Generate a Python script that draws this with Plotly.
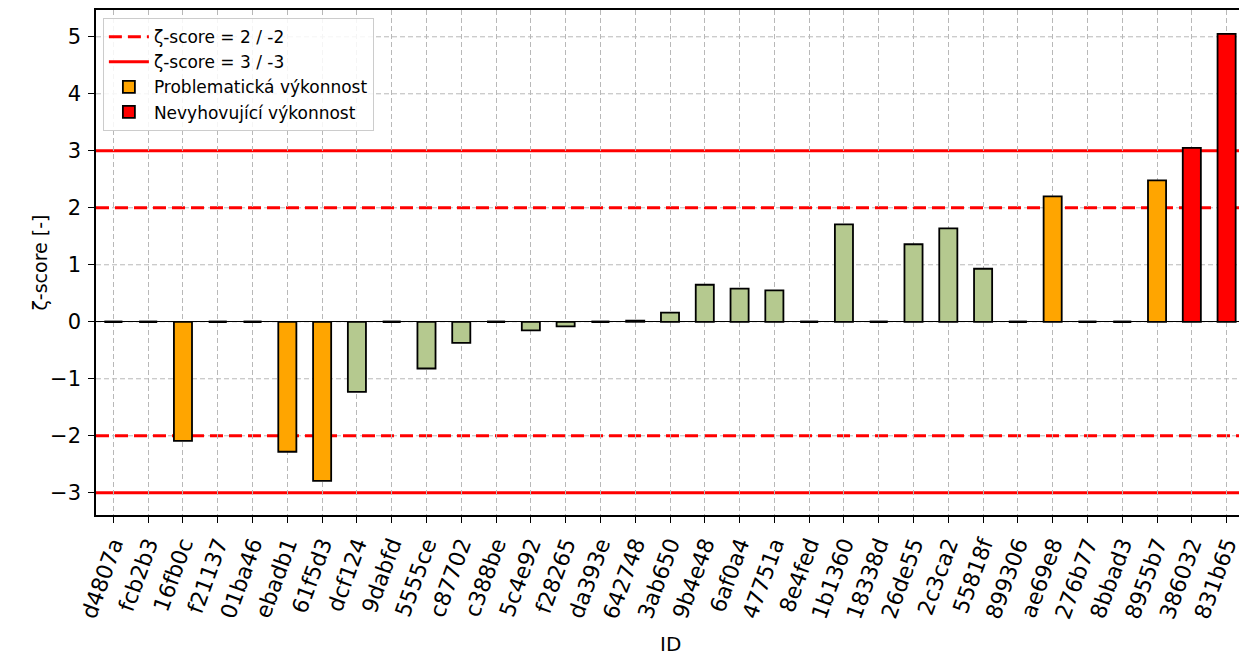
import plotly.graph_objects as go

ids = ["d4807a", "fcb2b3", "16fb0c", "f21137", "01ba46", "ebadb1", "61f5d3", "dcf124",
       "9dabfd", "5555ce", "c87702", "c388be", "5c4e92", "f28265", "da393e", "642748",
       "3ab650", "9b4e48", "6af0a4", "47751a", "8e4fed", "1b1360", "18338d", "26de55",
       "2c3ca2", "55818f", "899306", "ae69e8", "276b77", "8bbad3", "8955b7", "386032",
       "831b65"]
zscores = [0.0, 0.0, -2.09, 0.0, 0.0, -2.28, -2.79, -1.23,
           0.0, -0.82, -0.37, 0.0, -0.15, -0.08, 0.0, 0.02,
           0.16, 0.65, 0.58, 0.55, 0.0, 1.71, 0.0, 1.36,
           1.64, 0.93, 0.0, 2.20, 0.0, 0.0, 2.48, 3.05,
           5.05]
y_ticks = [-3, -2, -1, 0, 1, 2, 3, 4, 5]

GREEN = "#b5c98f"
ORANGE = "#ffa500"
RED = "#ff0000"
GRID = "#b8b8b8"
BAR_W = 0.52
FONT = "DejaVu Sans"
RED_DASH = "13px,6px"

idx = list(range(len(ids)))

def group(pred):
    xs = [i for i, z in zip(idx, zscores) if pred(z)]
    ys = [z for z in zscores if pred(z)]
    return xs, ys

fig = go.Figure()

# legend entries for reference lines (actual lines drawn as shapes below bars)
fig.add_trace(go.Scatter(x=[None], y=[None], mode="lines", name="ζ-score = 2 / -2",
                         line=dict(color=RED, width=3, dash=RED_DASH)))
fig.add_trace(go.Scatter(x=[None], y=[None], mode="lines", name="ζ-score = 3 / -3",
                         line=dict(color=RED, width=3)))

gx, gy = group(lambda z: abs(z) < 2 and z != 0)
ox, oy = group(lambda z: 2 <= abs(z) < 3)
rx, ry = group(lambda z: abs(z) >= 3)

edge = dict(color="black", width=1.8)
fig.add_trace(go.Bar(x=gx, y=gy, width=BAR_W, marker=dict(color=GREEN, line=edge),
                     showlegend=False, name="OK"))
fig.add_trace(go.Bar(x=ox, y=oy, width=BAR_W, marker=dict(color=ORANGE, line=edge),
                     name="Problematická výkonnost"))
fig.add_trace(go.Bar(x=rx, y=ry, width=BAR_W, marker=dict(color=RED, line=edge),
                     name="Nevyhovující výkonnost"))

# zero-height bars: drawn as their edge segment
zx, zy = [], []
for i, z in zip(idx, zscores):
    if z == 0:
        zx += [i - BAR_W / 2, i + BAR_W / 2, None]
        zy += [z, z, None]
fig.add_trace(go.Scatter(x=zx, y=zy, mode="lines", line=dict(color="black", width=2.4),
                         showlegend=False, hoverinfo="skip"))

# y gridlines as shapes (below everything), then threshold lines on top of them
for t in y_ticks:
    fig.add_shape(type="line", xref="paper", x0=0, x1=1, yref="y", y0=t, y1=t,
                  line=dict(color=GRID, width=1, dash="5px,3px"), layer="below")
for lvl, dash in [(2, RED_DASH), (-2, RED_DASH), (3, "solid"), (-3, "solid")]:
    fig.add_shape(type="line", xref="paper", x0=0, x1=1, yref="y", y0=lvl, y1=lvl,
                  line=dict(color=RED, width=3, dash=dash), layer="below")

# axis titles
fig.add_annotation(text="ID", xref="paper", yref="paper", x=0.5, y=-0.2554,
                   xanchor="center", yanchor="middle", showarrow=False,
                   font=dict(family=FONT, size=20, color="black"))
fig.add_annotation(text="ζ-score [-]", xref="paper", yref="paper", x=-0.0488, y=0.5,
                   xanchor="center", yanchor="middle", textangle=-90, showarrow=False,
                   font=dict(family=FONT, size=19, color="black"))

fig.update_layout(
    width=1239, height=649,
    margin=dict(l=88, r=3, t=2, b=142),
    paper_bgcolor="white", plot_bgcolor="white",
    font=dict(family=FONT, size=20, color="black"),
    barmode="overlay",
    legend=dict(x=0.006, y=0.984, xanchor="left", yanchor="top",
                bgcolor="rgba(255,255,255,0.85)", bordercolor="#cccccc", borderwidth=1,
                font=dict(family=FONT, size=17), traceorder="normal",
                itemwidth=40, tracegroupgap=2),
    xaxis=dict(range=[-0.5, len(ids) - 0.5], tickmode="array", tickvals=idx, ticktext=ids,
               tickangle=-70, ticks="outside", ticklen=6, tickwidth=1.2, tickcolor="black",
               tickfont=dict(size=22),
               showline=True, linecolor="black", linewidth=1.5, mirror=True,
               showgrid=True, gridcolor=GRID, griddash="5px,3px", gridwidth=1,
               zeroline=False, automargin=False),
    yaxis=dict(range=[-3.39, 5.47], tickmode="array", tickvals=y_ticks,
               ticks="outside", ticklen=6, tickwidth=1.2, tickcolor="black",
               tickfont=dict(size=21), ticklabelstandoff=3,
               showline=True, linecolor="black", linewidth=1.5, mirror=True,
               showgrid=False,
               zeroline=True, zerolinecolor="black", zerolinewidth=1, automargin=False),
)

fig.write_html("out.html")
